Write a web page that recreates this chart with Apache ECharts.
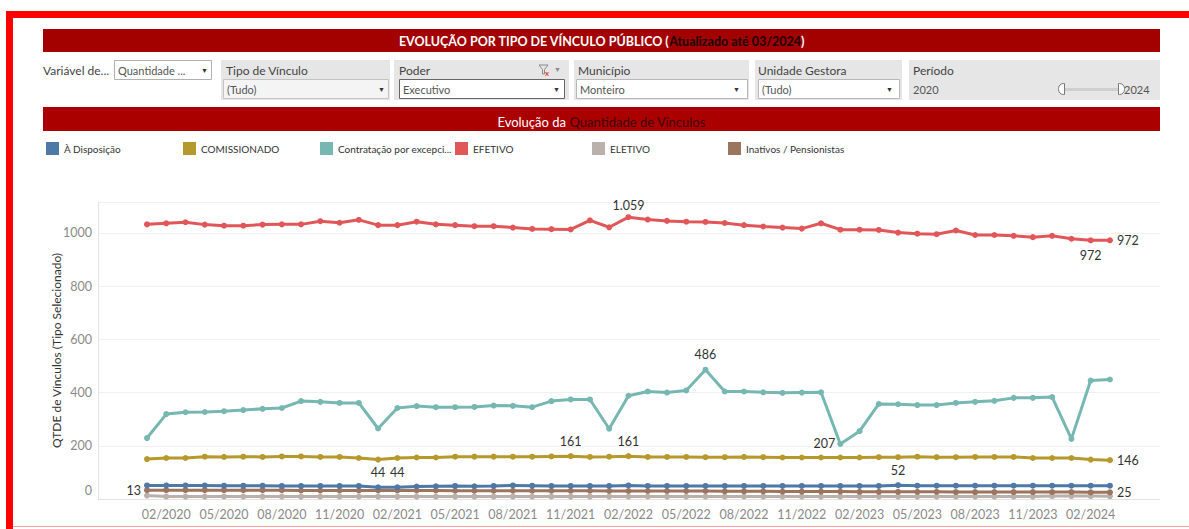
<!DOCTYPE html>
<html><head><meta charset="utf-8">
<script src="https://cdn.jsdelivr.net/npm/echarts@6/dist/echarts.min.js"></script>
<style>html,body{margin:0;padding:0;background:#fff}#c{width:1189px;height:529px}</style>
</head><body><div id="c"></div>
<script>
const months = ['01/2020','02/2020','03/2020','04/2020','05/2020','06/2020','07/2020','08/2020','09/2020','10/2020','11/2020','12/2020',
'01/2021','02/2021','03/2021','04/2021','05/2021','06/2021','07/2021','08/2021','09/2021','10/2021','11/2021','12/2021',
'01/2022','02/2022','03/2022','04/2022','05/2022','06/2022','07/2022','08/2022','09/2022','10/2022','11/2022','12/2022',
'01/2023','02/2023','03/2023','04/2023','05/2023','06/2023','07/2023','08/2023','09/2023','10/2023','11/2023','12/2023',
'01/2024','02/2024','03/2024'];
const tickLabels = ['02/2020','05/2020','08/2020','11/2020','02/2021','05/2021','08/2021','11/2021','02/2022','05/2022','08/2022','11/2022','02/2023','05/2023','08/2023','11/2023','02/2024'];
const yTicks = [0,200,400,600,800,1000];

const efetivo = [1032,1036,1040,1031,1027,1027,1031,1032,1032,1044,1038,1049,1029,1029,1042,1032,1029,1025,1025,1020,1015,1014,1013,1047,1021,1059,1050,1045,1042,1041,1037,1029,1024,1020,1016,1036,1012,1012,1011,1001,997,995,1009,992,992,989,984,989,978,972,972];
const contratacao = [229,319,326,327,330,334,339,342,368,365,361,361,265,342,349,345,345,346,351,350,345,368,374,374,264,388,404,400,408,486,404,404,401,399,400,401,207,255,357,356,353,353,361,365,369,380,380,383,226,445,449];
const comissionado = [150,154,154,159,158,159,158,160,160,158,158,154,148,154,156,156,159,159,159,159,159,160,161,158,159,161,158,158,158,157,157,158,157,156,156,156,156,156,157,157,159,157,157,158,158,158,154,154,154,148,146];
const disposicao = [51,51,51,51,50,50,50,49,49,49,49,49,44,44,47,48,49,48,49,51,50,49,49,49,49,51,49,49,49,49,49,49,49,49,49,49,49,49,49,52,50,50,50,50,50,50,50,50,50,50,50];
const inativos = [33,33,33,33,33,33,33,33,32,32,32,32,32,32,32,32,31,31,31,31,31,31,31,31,30,30,30,30,30,30,29,29,29,28,28,28,28,27,27,27,27,27,26,26,26,26,26,26,26,25,25];
const eletivo = [13,9,9,9,9,9,9,9,9,9,9,9,9,9,9,9,9,9,9,9,9,9,9,9,9,9,9,9,9,9,9,9,9,9,9,9,9,9,9,9,9,9,9,9,9,9,9,11,11,11,10];

const seriesNames = ['À Disposição','COMISSIONADO','Contratação por excepcional interesse público','EFETIVO','ELETIVO','Inativos / Pensionistas'];

// label placement (styling, kept apart from data)
const labelSpec = {
  'EFETIVO': {25:{position:'top',distance:2}, 49:{position:'bottom',distance:6}, 50:{position:'right',distance:4}},
  'Contratação por excepcional interesse público': {29:{position:'top',distance:6}, 36:{position:'left',distance:2}},
  'COMISSIONADO': {22:{position:'top',distance:5}, 25:{position:'top',distance:5}, 50:{position:'right',distance:4}},
  'À Disposição': {12:{position:'top',distance:5}, 13:{position:'top',distance:5}, 39:{position:'top',distance:5}},
  'Inativos / Pensionistas': {50:{position:'right',distance:4}},
  'ELETIVO': {0:{position:'left',distance:3,offset:[0,-5]}}
};
const styleOf = {
  'À Disposição': {color:'#4e79a7', data: disposicao},
  'COMISSIONADO': {color:'#b6992d', data: comissionado},
  'Contratação por excepcional interesse público': {color:'#76b7b2', data: contratacao},
  'EFETIVO': {color:'#e15759', data: efetivo},
  'ELETIVO': {color:'#bab0ac', data: eletivo},
  'Inativos / Pensionistas': {color:'#9c755f', data: inativos}
};
const drawOrder = ['ELETIVO','Inativos / Pensionistas','À Disposição','COMISSIONADO','Contratação por excepcional interesse público','EFETIVO'];
const legendLeft = [46,183,320,455,592,728];

function fmt(v){ return v>=1000 ? Math.floor(v/1000)+'.'+String(v%1000).padStart(3,'0') : String(v); }

const FONT = 'Lato, "Noto Sans", sans-serif';
const series = drawOrder.map(name => {
  const s = styleOf[name];
  const spec = labelSpec[name] || {};
  return {
    name, type:'line', symbol:'circle', symbolSize:6, showSymbol:true,
    color: s.color,
    lineStyle:{width:3, color:s.color},
    itemStyle:{color:s.color},
    emphasis:{disabled:true},
    animation:false,
    data: s.data.map((v,i) => {
      const item = {value:[i,v]};
      if (spec[i]) item.label = Object.assign({show:true, formatter: p => fmt(p.value[1]), color:'#333', fontSize:12.5, fontFamily:FONT}, spec[i]);
      return item;
    })
  };
});

// ---- decorative dashboard frame / filters
const G = [];
function R(x,y,w,h,fill,stroke,r){ G.push({type:'rect', silent:true, shape:{x,y,width:w,height:h,r:r||0}, style:{fill:fill||'none', stroke:stroke||null, lineWidth:1}}); }
function T(x,y,text,o){ G.push({type:'text', silent:true, x, y, style:Object.assign({text, fill:'#333', fontSize:12, fontFamily:FONT, verticalAlign:'middle', align:'left'}, o||{})}); }

R(6,11,1183,7,'#ff0000');
R(6,11,7,518,'#ff0000');
R(13,526,1176,1,'#f5a0a0');

R(43,29,1117,23,'#a30000');
G.push({type:'text', silent:true, x:601.5, y:41, style:{
  text:'{w|EVOLUÇÃO POR TIPO DE VÍNCULO PÚBLICO (}{k|Atualizado até 03/2024}{w|)}',
  align:'center', verticalAlign:'middle',
  rich:{w:{fill:'#fff', fontSize:12.5, fontWeight:'bold', fontFamily:FONT}, k:{fill:'#1a0000', fontSize:12.5, fontWeight:'bold', fontFamily:FONT}}
}});

// filter row
T(43,70,'Variável de...',{fill:'#444'});
R(114.5,60.5,97,19,'#fff','#b0b0b0');
T(118,70,'Quantidade ...',{fontSize:11, fill:'#555'});
T(201,70,'▼',{fontSize:7, fill:'#333'});

R(221,60,169,40,'#e6e6e6');
T(226,70,'Tipo de Vínculo',{fill:'#444'});
R(223.5,79.5,165,19,'#f4f4f4','#c4c4c4');
T(227,89,'(Tudo)',{fontSize:11, fill:'#555'});
T(378,89,'▼',{fontSize:7, fill:'#333'});

R(394,60,175,40,'#e6e6e6');
T(399,70,'Poder',{fill:'#444'});
G.push({type:'polygon', silent:true, shape:{points:[[539,65],[548,65],[544.5,69.5],[544.5,74],[542.5,74],[542.5,69.5]]}, style:{fill:'none', stroke:'#888', lineWidth:1}});
T(545,73,'x',{fontSize:8, fill:'#e00000'});
T(554,69,'▼',{fontSize:7, fill:'#888'});
R(399.5,79.5,165,19,'#fff','#666');
T(403,89,'Executivo',{fontSize:11, fill:'#555'});
T(553,89,'▼',{fontSize:7, fill:'#333'});

R(574,60,175,40,'#e6e6e6');
T(578,70,'Município',{fill:'#444'});
R(576.5,79.5,171,19,'#fff','#b8b8b8');
T(580,89,'Monteiro',{fontSize:11, fill:'#555'});
T(733,89,'▼',{fontSize:7, fill:'#333'});

R(755,60,147,40,'#e6e6e6');
T(758,70,'Unidade Gestora',{fill:'#444'});
R(758.5,79.5,141,19,'#fff','#b8b8b8');
T(762,89,'(Tudo)',{fontSize:11, fill:'#555'});
T(886,89,'▼',{fontSize:7, fill:'#333'});

R(909,60,251,40,'#e6e6e6');
T(913,70,'Período',{fill:'#444'});
T(913,89,'2020',{fontSize:11, fill:'#555'});
R(1063,88,57,3,'#cfcfcf');
R(1058.5,83.5,6,11,'#fff','#777',[5,0,0,5]);
R(1118.5,83.5,6,11,'#fff','#777',[0,5,5,0]);
T(1124,89,'2024',{fontSize:11, fill:'#555'});

// sub-header
R(43,107,1117,24,'#ab0000');
G.push({type:'text', silent:true, x:601.5, y:122, style:{
  text:'{w|Evolução da }{d|Quantidade de Vínculos}',
  align:'center', verticalAlign:'middle',
  rich:{w:{fill:'#fff', fontSize:13, fontFamily:FONT}, d:{fill:'#3d0000', fontSize:13, fontFamily:FONT}}
}});

const legends = seriesNames.map((n, k) => ({
  data:[n], left:legendLeft[k], top:142, padding:0, icon:'rect', itemWidth:13, itemHeight:13,
  selectedMode:false,
  formatter: nm => (nm.length > 24 ? nm.slice(0,23)+'...' : nm),
  textStyle:{fontSize:10, color:'#333', fontFamily:FONT}
}));

const chart = echarts.init(document.getElementById('c'), null, {renderer:'svg'});
chart.setOption({
  animation:false,
  backgroundColor:'#fff',
  graphic: G,
  legend: legends,
  grid:{left:98, right:29, top:202, bottom:30, containLabel:false},
  xAxis:{
    type:'value', min:-2.544, max:52.6,
    axisLine:{show:true, onZero:false, lineStyle:{color:'#e4e4e4'}},
    axisTick:{show:false},
    splitLine:{show:false},
    axisLabel:{customValues: tickLabels.map(t => months.indexOf(t)), formatter: v => months[Math.round(v)], color:'#8a8a8a', fontSize:12.5, fontFamily:FONT, margin:9}
  },
  yAxis:{
    type:'value', min:0, max:1116, interval:200,
    name:'QTDE de Vínculos (Tipo Selecionado)', nameLocation:'middle', nameGap:36, nameMoveOverlap:false,
    nameTextStyle:{color:'#333', fontSize:12, fontFamily:FONT},
    axisLine:{show:true, onZero:false, lineStyle:{color:'#e4e4e4'}},
    axisTick:{show:false},
    splitLine:{lineStyle:{color:'#f0f0f0'}},
    axisLabel:{showMaxLabel:false, color:'#8a8a8a', fontSize:12.5, fontFamily:FONT, margin:6,
      formatter: v => (v === yTicks[0] ? '{z|0}' : (yTicks.indexOf(v) >= 0 ? String(v) : '')),
      rich:{z:{padding:[0,0,18,0], color:'#8a8a8a', fontSize:12.5, fontFamily:FONT}}}
  },
  series
});
</script></body></html>
